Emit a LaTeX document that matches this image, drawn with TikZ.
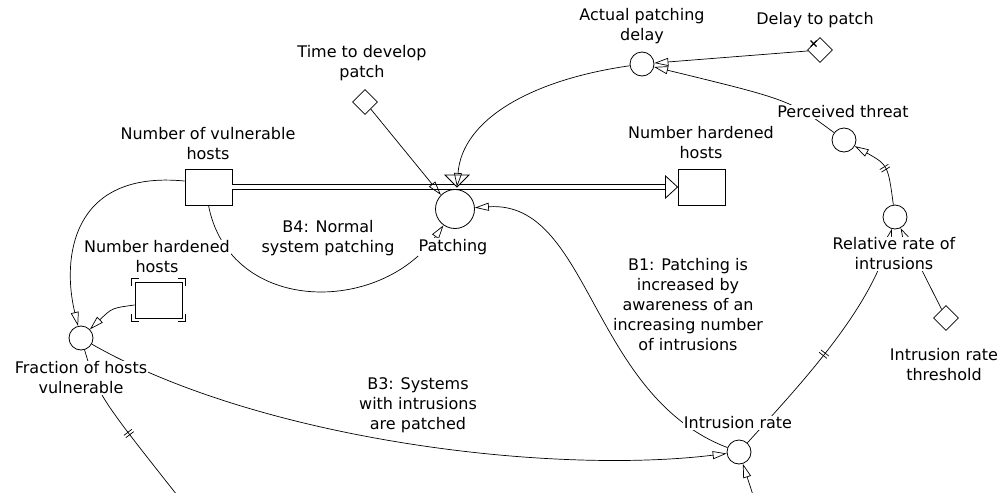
\documentclass[tikz,border=0pt]{standalone}
\usepackage{fontspec}
\setmainfont{DejaVu Sans}
\usetikzlibrary{arrows.meta,shapes.geometric,decorations.markings}

\tikzset{
  stock/.style={draw,line width=0.9pt,minimum width=47pt,minimum height=36pt,inner sep=0pt},
  auxvar/.style={draw,circle,line width=0.8pt,minimum size=24pt,inner sep=0pt},
  valvevar/.style={draw,circle,line width=0.8pt,minimum size=39pt,inner sep=0pt},
  constant/.style={draw,diamond,line width=0.8pt,minimum size=25pt,inner sep=0pt},
  lbl/.style={fill=white,inner sep=1pt,align=center,font=\fontsize{16}{20}\selectfont},
  looplbl/.style={inner sep=1pt,align=center,font=\fontsize{16}{20}\selectfont},
  link/.style={line width=0.7pt,-{Triangle[open,length=14pt,width=8pt]}},
  flowpipe/.style={double,double distance=3.5pt,line width=0.8pt},
  delaymark/.style={postaction={decorate,decoration={markings,
    mark=at position #1 with {\draw[-,line width=0.7pt] (-1.5pt,-5pt) -- (-1.5pt,5pt) (1.5pt,-5pt) -- (1.5pt,5pt);}}}}
}

\begin{document}
\begin{tikzpicture}[x=1pt,y=-1pt]
  \useasboundingbox (0,0) rectangle (1005,493);

  % livelli
  \node[stock] (vuln) at (208.5,187) {};
  \node[stock] (hardR) at (701.5,187) {};
  \node[stock] (ghost) at (158.5,300) {};
  \foreach \c/\sx/\sy in {north west/-1/-1,north east/1/-1,south west/-1/1,south east/1/1}
    \draw[line width=0.8pt] ([shift={({3*\sx},{3*\sy})}]ghost.\c) ++(0,{-7*\sy}) -- ++(0,{7*\sy}) -- ++({-7*\sx},0);

  % flusso
  \node[valvevar] (valve) at (455,209) {};
  \coordinate (valvetip) at (457,187);
  \coordinate (pipeend) at (666,187);
  \draw[flowpipe] (vuln.east) -- (pipeend);
  \draw[line width=0.8pt,fill=white] (hardR.west) -- ++(-12,11) -- ++(0,-22) -- cycle;
  \draw[line width=0.8pt,fill=white] (valvetip) -- ++(-12,-12) -- ++(24,0) -- cycle;

  % variabili
  \node[auxvar] (actdel) at (642,64) {};
  \node[auxvar] (perc) at (844,140) {};
  \node[auxvar] (rel) at (895,217) {};
  \node[auxvar] (intr) at (739,452) {};
  \node[auxvar] (frac) at (81,338) {};
  \node[constant] (tdev) at (365,102) {};
  \node[constant] (dtp) at (820,50) {};
  \node[constant] (thr) at (946,318) {};
  \draw[line width=1.2pt] ([shift={(-3,-3)}]dtp.north west) -- ([shift={(3,3)}]dtp.north west)
    ([shift={(3,-3)}]dtp.north west) -- ([shift={(-3,3)}]dtp.north west);
  \coordinate (belowintr) at (753,495);
  \coordinate (belowfrac) at (177,495);

  % collegamenti
  \draw[link] (tdev) -- (valve.north west);
  \draw[link] (actdel) .. controls (530,80) and (462,120) .. (valvetip);
  \draw[link] (dtp) -- (actdel);
  \draw[link] (perc) .. controls (790,100) .. (actdel);
  \draw[link,delaymark=0.5] (rel) .. controls (888,165) .. (perc);
  \draw[link,delaymark=0.45] (intr) .. controls (800,385) and (870,310) .. (rel);
  \draw[link] (thr) -- (rel);
  \draw[link] (intr) .. controls (590,395) and (590,200) .. (valve);
  \draw[link] (frac) .. controls (260,440) and (550,475) .. (intr);
  \draw[link] (belowintr) -- (intr);
  \draw[line width=0.7pt,delaymark=0.55] (frac) .. controls (98,395) .. (belowfrac);
  \draw[link] ([yshift=6pt]vuln.west) .. controls (70,170) and (62,260) .. (frac);
  \draw[link] ([yshift=-5pt]ghost.west) .. controls (112,308) .. (frac);
  \draw[link] (vuln.south) .. controls (230,315) and (380,315) .. (valve);

  % etichette
  \node[lbl] (lvuln) at (208,144) {Number of vulnerable\\hosts};
  \node[lbl] (lhardR) at (701,143) {Number hardened\\hosts};
  \node[lbl] (lghost) at (157,257) {Number hardened\\hosts};
  \node[lbl] (lvalve) at (453,247) {Patching};
  \node[lbl] (ltdev) at (362,63) {Time to develop\\patch};
  \node[lbl] (lactdel) at (642,26) {Actual patching\\delay};
  \node[lbl] (ldtp) at (815,20) {Delay to patch};
  \node[lbl] (lperc) at (843,112) {Perceived threat};
  \node[lbl] (lrel) at (894,254) {Relative rate of\\intrusions};
  \node[lbl] (lthr) at (944,365) {Intrusion rate\\threshold};
  \node[lbl] (lintr) at (738,423) {Intrusion rate};
  \node[lbl] (lfrac) at (81,378) {Fraction of hosts\\vulnerable};

  % anelli
  \node[looplbl] (loopB4) at (328,238) {B4: Normal\\system patching};
  \node[looplbl] (loopB1) at (688,305) {B1: Patching is\\increased by\\awareness of an\\increasing number\\of intrusions};
  \node[looplbl] (loopB3) at (418,405) {B3: Systems\\with intrusions\\are patched};
\end{tikzpicture}
\end{document}
